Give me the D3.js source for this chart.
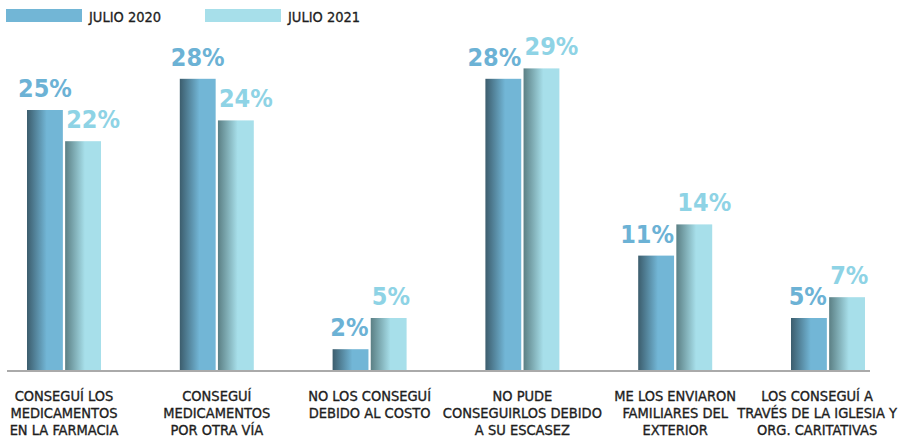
<!DOCTYPE html>
<html>
<head>
<meta charset="utf-8">
<script src="https://d3js.org/d3.v7.min.js"></script>
<style>
  body { margin: 0; background: #fff; }
  svg text { font-family: "DejaVu Sans Condensed", "Liberation Sans Narrow", "Roboto", sans-serif; font-stretch: condensed; }
</style>
</head>
<body>
<svg id="chart" width="899" height="443"></svg>
<script>
// data
var categories = [
  ["CONSEGUÍ LOS", "MEDICAMENTOS", "EN LA FARMACIA"],
  ["CONSEGUÍ", "MEDICAMENTOS", "POR OTRA VÍA"],
  ["NO LOS CONSEGUÍ", "DEBIDO AL COSTO"],
  ["NO PUDE", "CONSEGUIRLOS DEBIDO", "A SU ESCASEZ"],
  ["ME LOS ENVIARON", "FAMILIARES DEL", "EXTERIOR"],
  ["LOS CONSEGUÍ A", "TRAVÉS DE LA IGLESIA Y", "ORG. CARITATIVAS"]
];
var seriesNames = ["JULIO 2020", "JULIO 2021"];
var julio2020 = [25, 28, 2, 28, 11, 5];
var julio2021 = [22, 24, 5, 29, 14, 7];

var colors = ["#72b6d6", "#a7dfea"];
var darks = ["#3c5d6d", "#5b7f84"];
var labelColors = ["#6cb2d5", "#8ed3e5"];

var svg = d3.select("#chart");

// gradients for the bars (dark left edge)
var defs = svg.append("defs");
colors.forEach(function(c, i) {
  var g = defs.append("linearGradient").attr("id", "grad" + i)
    .attr("x1", "0%").attr("x2", "100%").attr("y1", "0%").attr("y2", "0%");
  g.append("stop").attr("offset", "0%").attr("stop-color", darks[i]);
  g.append("stop").attr("offset", "55%").attr("stop-color", c);
  g.append("stop").attr("offset", "100%").attr("stop-color", c);
});

var idx = d3.range(categories.length);
var x = d3.scalePoint().domain(idx).range([64, 828]);
var xs = d3.scaleBand().domain([0, 1]).range([-37, 37]).paddingInner(0.06);
var y = d3.scaleLinear().domain([0, 30]).range([370, 58]);

var rows = idx.map(function(i) { return [julio2020[i], julio2021[i]]; });

// axis line
svg.append("line")
  .attr("x1", 7).attr("x2", 870)
  .attr("y1", y(0) + 1).attr("y2", y(0) + 1)
  .attr("stroke", "#aaaaaa").attr("stroke-width", 2);

var groups = svg.selectAll(".grp").data(rows).enter().append("g")
  .attr("transform", function(d, i) { return "translate(" + x(i) + ",0)"; });

groups.selectAll("rect").data(function(d) { return d; }).enter().append("rect")
  .attr("x", function(d, j) { return xs(j); })
  .attr("width", xs.bandwidth())
  .attr("y", function(d) { return y(d); })
  .attr("height", function(d) { return y(0) - y(d); })
  .attr("fill", function(d, j) { return "url(#grad" + j + ")"; });

// value labels: 2021 starts at its bar, 2020 ends at its bar when the neighbour is taller
groups.each(function(row) {
  var g = d3.select(this);
  row.forEach(function(v, j) {
    var anchor, lx;
    if (j === 1) { anchor = "start"; lx = xs(1) + 1; }
    else if (row[1] >= row[0]) { anchor = "end"; lx = xs(0) + xs.bandwidth(); }
    else { anchor = "middle"; lx = xs(0) + xs.bandwidth() / 2; }
    g.append("text")
      .attr("x", lx)
      .attr("y", y(v) - 13)
      .attr("text-anchor", anchor)
      .attr("font-size", 25)
      .attr("font-weight", "bold")
      .attr("fill", labelColors[j])
      .text(v + "%");
  });
});

// category labels
groups.append("text")
  .attr("class", "cat")
  .attr("text-anchor", "middle")
  .attr("font-size", 14.5)
  .attr("fill", "#1e1e1e")
  .attr("stroke", "#1e1e1e").attr("stroke-width", 0.35)
  .selectAll("tspan").data(function(d, i) { return categories[i]; }).enter().append("tspan")
  .attr("x", 0)
  .attr("y", function(d, k) { return 401 + k * 17; })
  .text(function(d) { return d; });

// keep the last label inside the picture
svg.selectAll(".cat").each(function(d, i) {
  var b = this.getBBox();
  var right = x(i) + b.x + b.width;
  if (right > 897) d3.select(this).attr("transform", "translate(" + (897 - right) + ",0)");
});

// legend
var legend = svg.selectAll(".leg").data(seriesNames).enter().append("g")
  .attr("transform", function(d, i) { return "translate(" + (6 + i * 199) + ",9)"; });
legend.append("rect").attr("width", 76).attr("height", 13)
  .attr("fill", function(d, i) { return colors[i]; });
legend.append("text").attr("x", 83).attr("y", 12.5)
  .attr("font-size", 14.5).attr("fill", "#1e1e1e")
  .attr("stroke", "#1e1e1e").attr("stroke-width", 0.3)
  .text(function(d) { return d; });
</script>
</body>
</html>
